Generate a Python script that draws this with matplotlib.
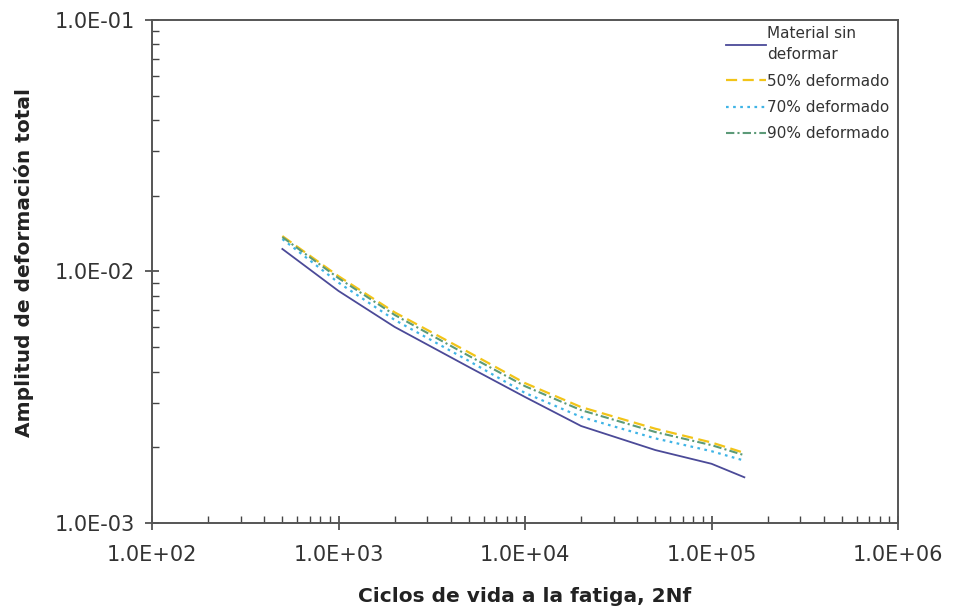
import matplotlib
matplotlib.use("Agg")
import matplotlib.pyplot as plt
from matplotlib.ticker import LogLocator, FuncFormatter, NullFormatter

plt.rcParams['font.family'] = ['DejaVu Sans']

# Ciclos (2Nf) y amplitud de deformación total para cada material
ciclos = [500, 1000, 2000, 5000, 10000, 20000, 50000, 100000, 150000]
sin_deformar = [0.01229, 0.00837, 0.00602, 0.00417, 0.00317, 0.00243, 0.00195, 0.00172, 0.00152]
def_50 = [0.01383, 0.00958, 0.00688, 0.00477, 0.00360, 0.00289, 0.00237, 0.00209, 0.00190]
def_70 = [0.01346, 0.00903, 0.00642, 0.00441, 0.00329, 0.00264, 0.00217, 0.00193, 0.00177]
def_90 = [0.01370, 0.00941, 0.00672, 0.00462, 0.00350, 0.00281, 0.00230, 0.00204, 0.00186]

fig = plt.figure(figsize=(9.59, 6.11), dpi=100)
ax = fig.add_axes([0.1585, 0.144, 0.7779, 0.8233])

ax.plot(ciclos, sin_deformar, color='#4b4a98', lw=1.3, ls='-', label='Material sin\ndeformar')
ax.plot(ciclos, def_50, color='#f2c418', lw=1.6, ls=(0, (5, 2.5)), label='50% deformado')
ax.plot(ciclos, def_70, color='#3fb4e6', lw=1.6, ls=(0, (1.2, 2)), label='70% deformado')
ax.plot(ciclos, def_90, color='#5c9a78', lw=1.5, ls=(0, (4, 1.5, 1, 1.5)), label='90% deformado')

ax.set_xscale('log')
ax.set_yscale('log')
ax.set_xlim(1e2, 1e6)
ax.set_ylim(1e-3, 1e-1)

fmt = FuncFormatter(lambda v, p: f"{v:.1E}")
for axis in (ax.xaxis, ax.yaxis):
    axis.set_major_locator(LogLocator(base=10, numticks=10))
    axis.set_minor_locator(LogLocator(base=10, subs=range(2, 10), numticks=20))
    axis.set_major_formatter(fmt)
    axis.set_minor_formatter(NullFormatter())

ax.tick_params(which='major', direction='inout', length=10, width=1.2,
               color='#444444', labelsize=15, labelcolor='#333333')
ax.tick_params(axis='x', which='major', pad=11)
ax.tick_params(axis='y', which='major', pad=7)
ax.tick_params(which='minor', direction='in', length=5, width=1.0, color='#444444')
ax.tick_params(top=False, right=False, which='both')

for s in ax.spines.values():
    s.set_color('#555555')
    s.set_linewidth(1.4)

ax.set_xlabel('Ciclos de vida a la fatiga, 2Nf', fontsize=14.5, fontweight='bold', color='#222222')
ax.set_ylabel('Amplitud de deformación total', fontsize=14.5, fontweight='bold', color='#222222')
ax.xaxis.set_label_coords(0.5, -0.128)
ax.yaxis.set_label_coords(-0.158, 0.517)

leg = ax.legend(loc='upper right', frameon=False, fontsize=11, handlelength=2.6,
                handletextpad=0.1, labelspacing=0.75, borderaxespad=0, borderpad=0.3,
                bbox_to_anchor=(0.995, 0.997))
leg.get_texts()[0].set_linespacing(1.5)
for t in leg.get_texts():
    t.set_color('#333333')

fig.savefig('out.png', dpi=100)
